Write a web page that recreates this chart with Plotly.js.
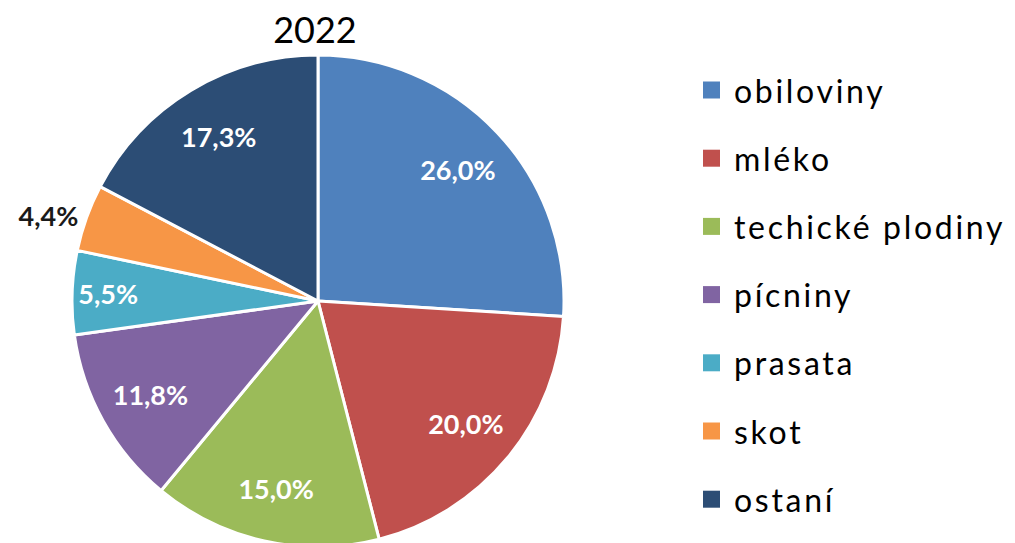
<!DOCTYPE html>
<html>
<head>
<meta charset="utf-8">
<script src="https://cdn.plot.ly/plotly-3.0.1.min.js"></script>
<style>
html,body{margin:0;padding:0;overflow:hidden;background:#fff;}
#chart{width:1015px;height:547px;}
</style>
</head>
<body>
<div id="chart"></div>
<script>
// Data
var categories = ["obiloviny", "mléko", "techické plodiny", "pícniny", "prasata", "skot", "ostaní"];
var shares = [26.0, 20.0, 15.0, 11.8, 5.5, 4.4, 17.3];
var colors = ["#4F81BD", "#C0504D", "#9BBB59", "#8064A2", "#4BACC6", "#F79646", "#2C4D75"];
var labelPositions = ["inside", "inside", "inside", "inside", "inside", "outside", "inside"];
var chartTitle = "2022";

var W = 1015, H = 547;
var FONT = "Lato, 'Open Sans', sans-serif";
var domain = { x: [0, 492 / 943], y: [0, 1] };

// Coloured slices
var slices = {
  type: "pie",
  labels: categories,
  values: shares,
  sort: false,
  direction: "clockwise",
  rotation: 0,
  marker: { colors: colors, line: { color: "#ffffff", width: 3 } },
  textinfo: "none",
  hoverinfo: "label+percent",
  showlegend: false,
  domain: domain
};

// Same slices, transparent ring, only used to place the value labels further out
var valueLabels = {
  type: "pie",
  labels: categories,
  values: shares,
  sort: false,
  direction: "clockwise",
  rotation: 0,
  hole: 0.56,
  marker: { colors: categories.map(function () { return "rgba(0,0,0,0)"; }), line: { width: 0 } },
  texttemplate: "%{value:.1f}%",
  textposition: labelPositions,
  insidetextorientation: "horizontal",
  insidetextfont: { family: FONT, size: 27, color: "#ffffff", weight: "bold" },
  outsidetextfont: { family: FONT, size: 27, color: "#1a1a1a", weight: "bold" },
  hoverinfo: "skip",
  showlegend: false,
  domain: domain
};

// Manual legend (squares + texts) with Excel-like spacing
var shapes = [];
var annotations = [];
var legTop = 90, legStep = 68.2, sq = 17, sqX = 703, txtX = 732;
var plotL = 72, plotT = 55, plotW = W - 72, plotH = H - 55;
function px2paperX(px) { return (px - plotL) / plotW; }
function px2paperY(py) { return 1 - (py - plotT) / plotH; }
for (var j = 0; j < categories.length; j++) {
  var cy = legTop + j * legStep;
  shapes.push({
    type: "rect", xref: "paper", yref: "paper",
    x0: px2paperX(sqX), x1: px2paperX(sqX + sq),
    y0: px2paperY(cy + sq / 2), y1: px2paperY(cy - sq / 2),
    fillcolor: colors[j], line: { width: 0 }
  });
  annotations.push({
    xref: "paper", yref: "paper",
    x: px2paperX(txtX), y: px2paperY(cy),
    xanchor: "left", yanchor: "middle",
    text: '<span style="letter-spacing:2.7px">' + categories[j] + '</span>',
    showarrow: false,
    font: { family: FONT, size: 32, color: "#000000" }
  });
}

var layout = {
  width: W, height: H,
  margin: { l: 72, r: 0, t: 55, b: 0, pad: 0 },
  paper_bgcolor: "#ffffff",
  separators: ", ",
  title: {
    text: chartTitle,
    xref: "container", yref: "container",
    x: 315 / W, y: 1 - 30 / H,
    xanchor: "center", yanchor: "middle",
    font: { family: FONT, size: 36, color: "#000000" }
  },
  showlegend: false,
  shapes: shapes,
  annotations: annotations
};

Plotly.newPlot("chart", [slices, valueLabels], layout, { displayModeBar: false, staticPlot: true });
</script>
</body>
</html>
